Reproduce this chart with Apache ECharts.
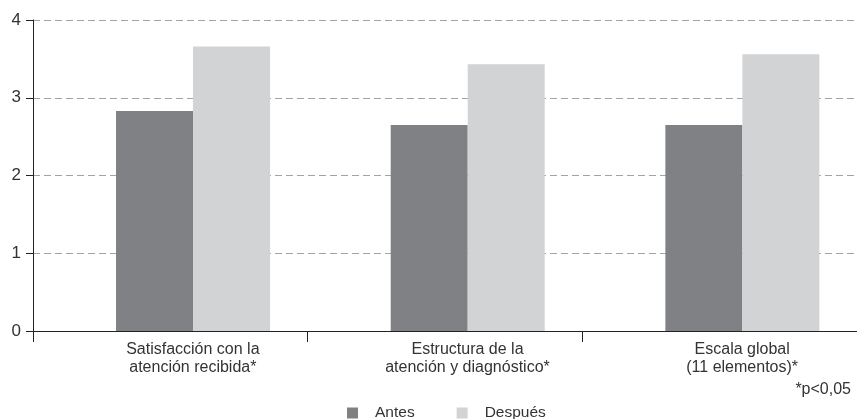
<!DOCTYPE html>
<html>
<head>
<meta charset="utf-8">
<script src="https://cdn.jsdelivr.net/npm/echarts@6/dist/echarts.min.js"></script>
<style>
html,body{margin:0;padding:0;background:#fff;}
#chart{width:857px;height:419px;}
</style>
</head>
<body>
<div id="chart"></div>
<script>
const categories = ['Satisfacción con la\natención recibida*', 'Estructura de la\natención y diagnóstico*', 'Escala global\n(11 elementos)*'];
const antes = [2.83, 2.65, 2.65];
const despues = [3.66, 3.43, 3.56];
const yTicks = [0, 1, 2, 3, 4];
const footnote = '*p<0,05';

const FONT = '"Liberation Sans", Arial, sans-serif';
const chart = echarts.init(document.getElementById('chart'), null, {renderer: 'canvas'});
chart.setOption({
  animation: false,
  backgroundColor: '#ffffff',
  textStyle: {fontFamily: FONT},
  grid: {left: 33, right: 0, top: 20, bottom: 88, containLabel: false},
  legend: {
    data: ['Antes', 'Después'],
    icon: 'rect',
    itemWidth: 11,
    itemHeight: 11,
    left: 347,
    top: 405,
    itemGap: 42,
    padding: 0,
    textStyle: {fontSize: 15.5, color: '#333', fontFamily: FONT, padding: [0, 0, 0, 12]}
  },
  xAxis: {
    type: 'category',
    data: categories,
    boundaryGap: true,
    axisLine: {lineStyle: {color: '#222', width: 1}},
    axisTick: {show: true, length: 11, lineStyle: {color: '#222'}},
    axisLabel: {
      color: '#333', fontSize: 16, fontFamily: FONT, lineHeight: 18,
      margin: 10, padding: [0, 0, 0, 45], interval: 0
    },
    splitLine: {show: false}
  },
  yAxis: {
    type: 'value',
    min: yTicks[0],
    max: yTicks[yTicks.length - 1],
    interval: 1,
    axisLine: {show: true, lineStyle: {color: '#222', width: 1}},
    axisTick: {show: true, length: 7, lineStyle: {color: '#222'}},
    axisLabel: {color: '#333', fontSize: 17, fontFamily: FONT, margin: 12},
    splitLine: {show: true, lineStyle: {color: '#a3a3a3', type: [7, 4], width: 1}}
  },
  series: [
    {name: 'pad', type: 'bar', data: categories.map(() => 0), barWidth: 45.4, barGap: '0%', silent: true, itemStyle: {opacity: 0}},
    {name: 'Antes', type: 'bar', data: antes, barWidth: 77, barGap: '0%', itemStyle: {color: '#808185'}},
    {name: 'Después', type: 'bar', data: despues, barWidth: 77, barGap: '0%', itemStyle: {color: '#d2d3d5'}}
  ],
  graphic: [{
    type: 'text',
    right: 6,
    top: 382,
    style: {text: footnote, font: '16px ' + FONT, fill: '#333'}
  }]
});
</script>
</body>
</html>
